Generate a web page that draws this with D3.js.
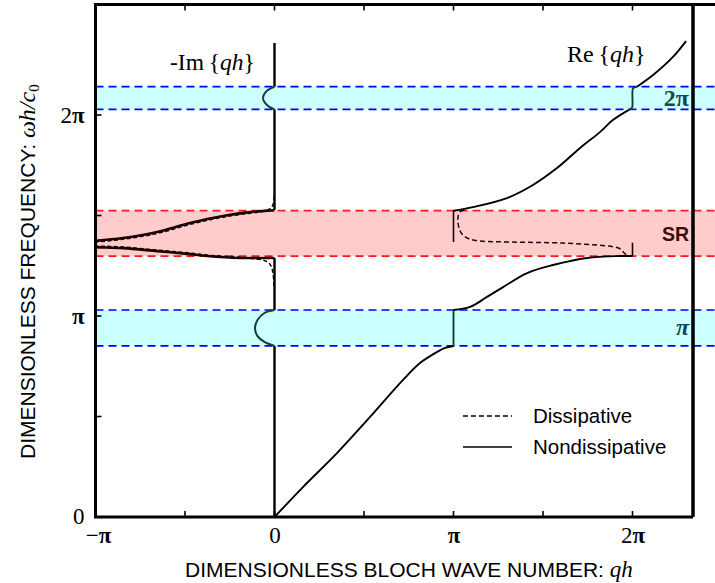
<!DOCTYPE html>
<html>
<head>
<meta charset="utf-8">
<script src="https://cdn.jsdelivr.net/npm/d3@7"></script>
<style>
  body { margin: 0; background: #fff; }
  svg { display: block; }
</style>
</head>
<body>
<svg id="chart" width="715" height="583"></svg>
<script>
// Bloch wave number qh and frequency ωh/c0, both in units of π.

// Axes
const xTickValues = [-1, 0, 1, 2];
const xTickLabels = ["−π", "0", "π", "2π"];
const xMinorTicks = [-0.5, 0, 0.5, 1, 1.5, 2];
const yTickValues = [0, 1, 2];
const yTickLabels = ["0", "π", "2π"];
const yMinorTicks = [0.5, 1, 1.5, 2];

// Stop bands: two Bragg gaps and the local-resonance gap (SR)
const bandNames = ["π", "SR", "2π"];
const bandLow = [0.851, 1.2985, 2.028];
const bandHigh = [1.030, 1.524, 2.141];
const bandTypes = ["bragg", "resonance", "bragg"];

// Re{qh}, nondissipative: pass bands
const reBranch1Q = [0, 0.159, 0.349, 0.534, 0.718, 0.813, 0.908, 0.952, 1.0];
const reBranch1W = [0, 0.149, 0.318, 0.498, 0.682, 0.766, 0.821, 0.841, 0.851];
const reBranch2Q = [1.0, 1.092, 1.187, 1.277, 1.411, 1.556, 1.746, 1.930, 2.0];
const reBranch2W = [1.030, 1.045, 1.095, 1.144, 1.214, 1.254, 1.289, 1.2985, 1.2985];
const reBranch3Q = [1.0, 1.109, 1.299, 1.444, 1.578, 1.707, 1.818, 1.89, 1.98];
const reBranch3W = [1.524, 1.542, 1.587, 1.652, 1.736, 1.836, 1.915, 1.975, 2.026];
const reBranch4Q = [2.025, 2.115, 2.226, 2.299];
const reBranch4W = [2.141, 2.199, 2.289, 2.368];

// Re{qh}, nondissipative: inside the stop bands
const reGap1Q = [1.0, 1.0];
const reGap1W = [0.851, 1.030];
const reGap2Q = [1.98, 1.997, 2.0, 2.0, 2.004, 2.025];
const reGap2W = [2.026, 2.036, 2.05, 2.12, 2.134, 2.141];
const reSRLowQ = [2.0, 2.0];
const reSRLowW = [1.2985, 1.365];
const reSRHighQ = [1.0, 1.0];
const reSRHighW = [1.368, 1.524];

// Re{qh}, dissipative, across the resonance gap
const reDissQ = [1.06, 1.035, 1.025, 1.03, 1.05, 1.09, 1.15, 1.332, 1.612, 1.802, 1.891, 1.935, 1.955, 1.975];
const reDissW = [1.526, 1.518, 1.49, 1.44, 1.405, 1.383, 1.373, 1.368, 1.363, 1.353, 1.345, 1.332, 1.312, 1.299];

// -Im{qh}, nondissipative
const imAxisLow = [0, 1.030, 1.527, 2.141];
const imAxisHigh = [0.851, 1.289, 2.028, 2.358];
const imGap1Q = [0, -0.056, -0.095, -0.109, -0.095, -0.056, 0];
const imGap1W = [0.851, 0.871, 0.900, 0.940, 0.980, 1.015, 1.030];
const imGap2Q = [0, -0.042, -0.064, -0.042, 0];
const imGap2W = [2.028, 2.050, 2.085, 2.121, 2.141];
const imSRLowerQ = [0, -0.025, -0.193, -0.377, -0.472, -0.656, -0.846, -1.014, -1.15];
const imSRLowerW = [1.289, 1.289, 1.289, 1.299, 1.308, 1.323, 1.338, 1.343, 1.350];
const imSRUpperQ = [-1.15, -1.014, -0.846, -0.656, -0.472, -0.288, -0.137, -0.025, 0];
const imSRUpperW = [1.365, 1.373, 1.388, 1.418, 1.463, 1.498, 1.517, 1.525, 1.527];

// -Im{qh}, dissipative
const imDissBelowQ = [-0.003, -0.008, -0.02, -0.045, -0.08];
const imDissBelowW = [1.15, 1.21, 1.25, 1.272, 1.282];
const imDissLowerQ = [-0.08, -0.193, -0.377, -0.472, -0.656, -0.846, -1.014, -1.15];
const imDissLowerW = [1.282, 1.292, 1.303, 1.313, 1.328, 1.343, 1.349, 1.356];
const imDissUpperQ = [-1.15, -1.014, -0.846, -0.656, -0.472, -0.288, -0.137, -0.06, -0.02, -0.006, -0.002];
const imDissUpperW = [1.360, 1.368, 1.382, 1.411, 1.456, 1.492, 1.512, 1.521, 1.537, 1.56, 1.61];

const legendLabels = ["Dissipative", "Nondissipative"];

// ---------------------------------------------------------------------------
const W = 715, H = 583;
const plotLeft = 95.5, plotRight = 693, plotTop = 4.5, plotBottom = 517;
const serif = "'Liberation Serif', 'Times New Roman', serif";
const sans = "'Liberation Sans', Arial, Helvetica, sans-serif";

const svg = d3.select("#chart");
svg.append("rect").attr("width", W).attr("height", H).attr("fill", "#fff");

const x = d3.scaleLinear().domain([-1, 2.338]).range([plotLeft, plotRight]);
const y = d3.scaleLinear().domain([0, 2.55]).range([plotBottom, plotTop]);

const bandFill = { bragg: "#ccffff", resonance: "#ffcccc" };
const bandEdge = { bragg: "#0000ff", resonance: "#ff1a1a" };
const bandText = { bragg: "#0e4a48", resonance: "#3a0c0c" };

// Stop-band shading and dashed edges (run out past the frame)
const bands = svg.append("g");
bandLow.forEach((lo, i) => {
  const hi = bandHigh[i], t = bandTypes[i];
  bands.append("rect")
    .attr("x", x(-1)).attr("y", y(hi))
    .attr("width", W - x(-1)).attr("height", y(lo) - y(hi))
    .attr("fill", bandFill[t]);
  [lo, hi].forEach(v => {
    bands.append("line")
      .attr("x1", x(-1)).attr("x2", W)
      .attr("y1", y(v)).attr("y2", y(v))
      .attr("stroke", bandEdge[t]).attr("stroke-width", 1.7)
      .attr("stroke-dasharray", "8,5");
  });
});

svg.append("clipPath").attr("id", "plot-clip")
  .append("rect").attr("x", plotLeft).attr("y", plotTop)
  .attr("width", plotRight - plotLeft).attr("height", plotBottom - plotTop);

const plot = svg.append("g").attr("clip-path", "url(#plot-clip)");
const line = d3.line()
  .x(d => x(d[0])).y(d => y(d[1]))
  .curve(d3.curveCatmullRom.alpha(0.5));

function curve(q, w, opts) {
  plot.append("path")
    .datum(d3.zip(q, w))
    .attr("d", line)
    .attr("fill", "none")
    .attr("stroke", opts.color || "#000")
    .attr("stroke-width", opts.width || 1.9)
    .attr("stroke-dasharray", opts.dash || null)
    .attr("stroke-linejoin", "round");
}

const gapInk = "#173f38";

// -Im{qh}
imAxisLow.forEach((lo, i) => curve([0, 0], [lo, imAxisHigh[i]], { width: 2.4 }));
curve(imGap1Q, imGap1W, { color: gapInk, width: 2 });
curve(imGap2Q, imGap2W, { color: gapInk, width: 2 });
curve(imSRLowerQ, imSRLowerW, { color: "#1a0505", width: 2.6 });
curve(imSRUpperQ, imSRUpperW, { color: "#1a0505", width: 2.6 });
curve(imDissBelowQ, imDissBelowW, { width: 1.5, dash: "4,2.5" });
curve(imDissLowerQ, imDissLowerW, { color: "#1a0505", width: 1.6, dash: "4,2.5" });
curve(imDissUpperQ, imDissUpperW, { color: "#1a0505", width: 1.6, dash: "4,2.5" });

// Re{qh}
curve(reBranch1Q, reBranch1W, {});
curve(reGap1Q, reGap1W, { color: gapInk });
curve(reBranch2Q, reBranch2W, {});
curve(reSRLowQ, reSRLowW, { color: "#1a0505", width: 1.6 });
curve(reSRHighQ, reSRHighW, { color: "#1a0505", width: 1.6 });
curve(reBranch3Q, reBranch3W, {});
curve(reGap2Q, reGap2W, { color: gapInk });
curve(reBranch4Q, reBranch4W, {});
curve(reDissQ, reDissW, { color: "#1a0505", width: 1.5, dash: "5,3" });

// Ticks (inward) on bottom, top and left
const tickLen = 6;
const ticks = svg.append("g").attr("stroke", "#000").attr("stroke-width", 1.6);
xMinorTicks.forEach(v => {
  ticks.append("line").attr("x1", x(v)).attr("x2", x(v))
    .attr("y1", plotBottom).attr("y2", plotBottom - tickLen);
  ticks.append("line").attr("x1", x(v)).attr("x2", x(v))
    .attr("y1", plotTop).attr("y2", plotTop + tickLen);
});
yMinorTicks.forEach(v => {
  ticks.append("line").attr("x1", plotLeft).attr("x2", plotLeft + tickLen)
    .attr("y1", y(v)).attr("y2", y(v));
});

// Frame
const frame = svg.append("g").attr("stroke", "#000").attr("fill", "none");
frame.append("line").attr("x1", plotLeft).attr("x2", plotLeft).attr("y1", plotTop).attr("y2", plotBottom).attr("stroke-width", 3);
frame.append("line").attr("x1", plotLeft - 1.5).attr("x2", plotRight).attr("y1", plotBottom).attr("y2", plotBottom).attr("stroke-width", 3);
frame.append("line").attr("x1", plotLeft - 1.5).attr("x2", W).attr("y1", plotTop).attr("y2", plotTop).attr("stroke-width", 3);
frame.append("line").attr("x1", plotRight).attr("x2", plotRight).attr("y1", plotTop - 1.5).attr("y2", plotBottom).attr("stroke-width", 3.5);

// Tick labels: digits regular, π set a little heavier
function piLabel(sel, label) {
  sel.text(null);
  for (const ch of label) {
    sel.append("tspan").attr("font-weight", ch === "π" ? "bold" : "normal").text(ch);
  }
}

const xLabels = d3.axisBottom(x).tickValues(xTickValues)
  .tickFormat((d, i) => xTickLabels[i]).tickSize(0).tickPadding(0);
const gx = svg.append("g").attr("transform", `translate(0,${plotBottom})`).call(xLabels);
gx.select(".domain").remove();
gx.selectAll("text")
  .attr("y", 26).attr("dy", null)
  .attr("dx", (d, i) => (i === 0 ? 2.5 : 0))
  .attr("font-family", serif).attr("font-size", 23).attr("fill", "#000")
  .each(function (d, i) { piLabel(d3.select(this), xTickLabels[i]); });

const yLabels = d3.axisLeft(y).tickValues(yTickValues)
  .tickFormat((d, i) => yTickLabels[i]).tickSize(0).tickPadding(0);
const gy = svg.append("g").attr("transform", `translate(${plotLeft - 11},0)`).call(yLabels);
gy.select(".domain").remove();
gy.selectAll("text")
  .attr("dy", (d, i) => (i === 0 ? 6.5 : 7.5))
  .attr("font-family", serif).attr("font-size", 23).attr("fill", "#000")
  .each(function (d, i) { piLabel(d3.select(this), yTickLabels[i]); });

// Axis titles
const xt = svg.append("text").attr("x", 185).attr("y", 577)
  .attr("font-family", sans).attr("font-size", 21).attr("fill", "#000");
xt.append("tspan").text("DIMENSIONLESS BLOCH WAVE NUMBER: ");
xt.append("tspan").attr("font-family", serif).attr("font-style", "italic")
  .attr("font-size", 23).text("qh");

const yt = svg.append("text")
  .attr("transform", "translate(35,459) rotate(-90)")
  .attr("font-family", sans).attr("font-size", 21).attr("fill", "#000");
yt.append("tspan").text("DIMENSIONLESS FREQUENCY: ");
yt.append("tspan").attr("font-family", serif).attr("font-style", "italic")
  .attr("font-size", 24).text("ωh/c");
yt.append("tspan").attr("font-family", serif).attr("font-size", 15)
  .attr("dy", 4).text("0");

// Curve labels
const imLab = svg.append("text").attr("x", 170).attr("y", 70)
  .attr("font-family", serif).attr("font-size", 23.5).attr("fill", "#000");
imLab.append("tspan").text("-Im\u2009{");
imLab.append("tspan").attr("font-style", "italic").text("qh");
imLab.append("tspan").text("}");

const reLab = svg.append("text").attr("x", 567).attr("y", 62)
  .attr("font-family", serif).attr("font-size", 24).attr("fill", "#000");
reLab.append("tspan").text("Re\u2009{");
reLab.append("tspan").attr("font-style", "italic").text("qh");
reLab.append("tspan").text("}");

// Stop-band labels at the right edge
bandNames.forEach((name, i) => {
  const t = bandTypes[i];
  const mid = (bandLow[i] + bandHigh[i]) / 2;
  svg.append("text")
    .attr("x", 689).attr("y", y(mid)).attr("dy", 7.5)
    .attr("text-anchor", "end")
    .attr("font-family", t === "resonance" ? sans : serif)
    .attr("font-size", t === "resonance" ? 19.5 : 24)
    .attr("font-weight", "bold")
    .attr("font-style", name === "π" ? "italic" : "normal")
    .attr("fill", bandText[t])
    .text(name);
});

// Legend
const legendY = [416, 447];
legendLabels.forEach((label, i) => {
  svg.append("line")
    .attr("x1", 463).attr("x2", 512).attr("y1", legendY[i]).attr("y2", legendY[i])
    .attr("stroke", "#000").attr("stroke-width", 1.6)
    .attr("stroke-dasharray", i === 0 ? "5,3" : null);
  svg.append("text")
    .attr("x", 533).attr("y", legendY[i] + 7)
    .attr("font-family", sans).attr("font-size", 20.5).attr("fill", "#000")
    .text(label);
});
</script>
</body>
</html>
